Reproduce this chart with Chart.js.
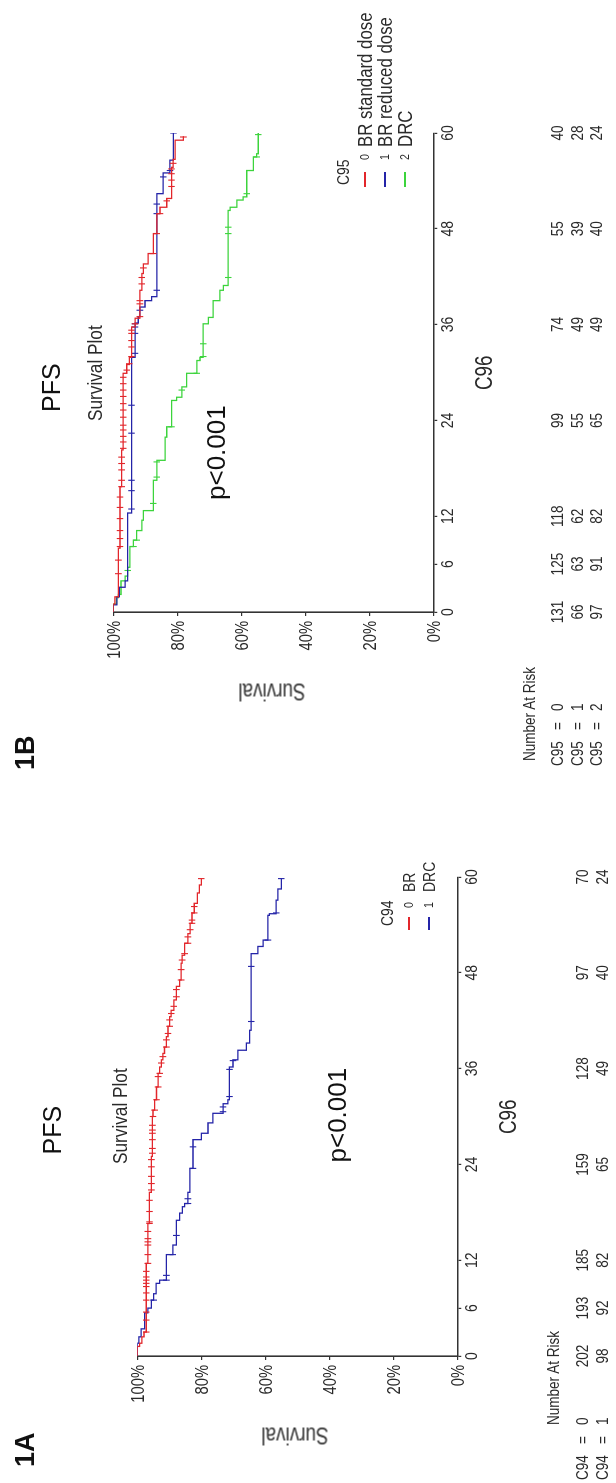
<!DOCTYPE html>
<html><head><meta charset="utf-8">
<script src="https://cdn.jsdelivr.net/npm/chart.js@4/dist/chart.umd.min.js"></script>
<style>
html,body{margin:0;padding:0;background:#fff;}
body{width:616px;height:1483px;overflow:hidden;position:relative;}
#land{position:absolute;left:0;top:0;width:1483px;height:616px;transform-origin:0 0;transform:translate(0,1483px) rotate(-90deg);}
.t{position:absolute;white-space:pre;line-height:1;color:#222;transform-origin:0 0;}
.wrap{position:absolute;}
.lg{position:absolute;height:1.6px;}
</style></head><body>
<div id="land">
  <div class="wrap" style="left:0;top:24px;width:740px;height:592px;"><canvas id="cA" width="740" height="592" style="width:740px;height:592px"></canvas></div>
  <div class="wrap" style="left:744px;top:0;width:739px;height:616px;"><canvas id="cB" width="739" height="616" style="width:739px;height:616px"></canvas></div>
</div>
<script>
// ================= DATA =================
const xTicks = [0, 6, 12, 24, 36, 48, 60];
const yTicks = [0, 20, 40, 60, 80, 100];
const riskTimes = [0, 6, 12, 24, 36, 48, 60];

// Figure 1A  (C94: 0 = BR, 1 = DRC)  steps: [months, survival %]
const stepsA_BR = [[0,100],[1.2,99.3],[1.6,98.6],[2.4,97.9],[3.0,97.2],[11.6,96.7],[16.6,96.2],[20.5,95.6],[25.0,95.3],[30.0,95.1],[30.8,94.6],[32.1,94.0],[33.7,93.5],[35.4,93.0],[36.2,92.5],[37.1,92.0],[37.9,91.5],[38.7,90.9],[40.0,90.4],[41.3,89.9],[42.5,89.4],[43.3,88.6],[44.6,87.8],[46.3,86.8],[47.1,86.3],[49.2,86.0],[50.2,85.2],[51.7,84.2],[52.9,83.5],[54.2,82.9],[55.5,82.2],[56.7,81.2],[58.0,80.6],[59.0,80.0],[59.8,80.0]];
const stepsA_DRC = [[0,100],[1.6,99.5],[2.4,98.8],[3.4,97.7],[5.4,96.7],[6.0,95.6],[7.0,94.9],[7.8,94.1],[9.1,93.0],[9.5,90.9],[12.7,88.9],[13.9,87.8],[17.0,86.8],[17.9,85.9],[18.7,85.2],[19.1,84.2],[20.5,83.6],[23.5,82.6],[27.1,80.0],[27.9,77.9],[29.2,76.4],[30.4,73.2],[31.6,71.7],[32.1,71.2],[36.2,70.1],[37.1,68.6],[38.3,65.9],[39.2,64.9],[40.8,64.4],[50.4,62.3],[51.3,60.7],[52.1,59.2],[55.2,58.7],[55.4,56.6],[57.1,56.1],[58.5,55.0],[59.8,55.0]];
const censA_BR = [3.0,4.5,5.5,7.0,7.9,8.7,9.1,9.5,9.9,10.6,11.6,12.7,13.9,14.3,14.7,15.6,16.6,16.8,18.1,19.5,20.8,21.6,22.5,23.7,24.6,25.4,26.0,27.1,27.9,28.3,28.9,30.0,30.8,32.1,33.7,35.0,35.4,36.7,37.5,38.7,39.6,40.4,41.3,42.1,42.9,43.8,45.0,45.9,47.1,48.4,49.6,50.4,51.7,52.5,53.4,54.2,54.6,55.5,56.3,59.8];
const censA_DRC = [7.0,9.5,10.1,12.7,15.1,19.1,19.7,23.5,26.2,30.6,31.2,32.5,35.9,37.0,41.9,48.8,52.1,55.5,59.8];
const riskA_0 = [202,193,185,159,128,97,70];
const riskA_1 = [98,92,82,65,49,40,24];

// Figure 1B  (C95: 0 = BR standard dose, 1 = BR reduced dose, 2 = DRC)
const stepsB_std = [[0,100],[1.0,99.5],[1.9,98.4],[8.0,97.9],[15.7,97.4],[20.3,96.9],[29.9,95.8],[31.0,95.0],[31.9,94.3],[35.7,93.2],[36.8,91.7],[40.3,91.1],[42.4,90.6],[43.6,89.1],[44.9,87.5],[47.4,86.4],[49.9,85.4],[50.7,83.3],[51.8,81.8],[55.7,81.3],[56.7,80.7],[59.1,78.1],[59.6,78.1]];
const stepsB_red = [[0,100],[0.9,98.9],[1.9,98.1],[3.1,96.3],[3.9,95.5],[12.4,94.3],[31.9,93.2],[36.2,92.2],[37.0,91.7],[38.2,90.1],[39.0,88.0],[39.5,86.4],[52.4,84.4],[55.0,82.3],[56.6,81.2],[60,81.2]];
const stepsB_DRC = [[0,100],[1.0,99.0],[1.8,98.4],[2.2,97.6],[3.9,96.3],[4.5,95.5],[5.6,94.8],[8.2,93.7],[9.0,92.7],[10.2,91.1],[11.5,90.6],[12.7,87.5],[16.5,86.4],[19.0,83.8],[21.9,83.3],[23.2,81.8],[26.5,80.2],[26.9,78.6],[28.2,77.1],[29.9,73.9],[31.5,72.9],[31.9,71.9],[36.1,70.3],[36.9,68.8],[39.0,66.7],[40.3,65.6],[40.9,64.1],[50.3,63.5],[50.7,61.4],[51.6,59.4],[52.0,58.3],[55.3,56.2],[57.0,55.2],[57.4,54.7],[60,54.7]];
const censB_std = [4.8,6.5,8.2,9.2,10.2,11.7,13.1,14.4,15.7,16.5,17.8,18.6,19.4,20.5,21.3,22.0,22.8,23.4,24.4,25.3,26.1,27.0,27.8,28.6,29.4,30.3,31.1,32.0,33.2,34.0,34.9,35.3,36.1,37.0,38.6,39.0,41.1,41.9,43.1,44.9,47.4,49.9,51.5,53.3,54.1,54.9,55.5,56.2,59.5];
const censB_red = [12.9,15.2,16.5,22.4,25.9,32.4,34.9,35.7,36.1,37.8,40.3,49.9,51.1,54.5,55.3,60];
const censB_DRC = [5.2,8.2,9.0,13.6,16.9,18.8,23.2,27.8,29.9,32.0,33.6,41.9,47.4,48.2,52.4,57.0,59.8];
const riskB_0 = [131,125,118,99,74,55,40];
const riskB_1 = [66,63,62,55,49,39,28];
const riskB_2 = [97,91,82,65,49,40,24];

// ================= STYLE / LAYOUT =================
const RED = '#e2262b', BLUE = '#2424a8', GREEN = '#3cd43c', AXIS = '#333';
function hasFont(name){
  const c = document.createElement('canvas').getContext('2d');
  const s = 'Number At Risk 0123456789 %';
  c.font = '40px monospace'; const w1 = c.measureText(s).width;
  c.font = '40px "' + name + '", monospace'; const w2 = c.measureText(s).width;
  return Math.abs(w1 - w2) > 0.5;
}
const NARROW_OK = hasFont('Liberation Sans Narrow');
const NF = NARROW_OK ? '"Liberation Sans Narrow", "Liberation Sans", sans-serif' : '"Liberation Sans", Arial, sans-serif';
const SX = NARROW_OK ? 1 : 0.82;   // emulate Arial Narrow by horizontal compression
const SF = '"Liberation Sans", Arial, sans-serif';

function survAt(steps, t){ let s = steps[0][1]; for (const [x,y] of steps){ if (x <= t + 1e-9) s = y; else break; } return s; }

function narrowText(ctx, str, x, y, size, align){
  ctx.save();
  ctx.translate(x, y); ctx.scale(SX, 1);
  ctx.font = size + 'px ' + NF;
  ctx.textAlign = align; ctx.textBaseline = 'alphabetic';
  ctx.fillText(str, 0, 0);
  ctx.restore();
}

function makeChart(id, W, H, series, riskRows, rowV){
  const datasets = [];
  series.forEach(sr => {
    datasets.push({ data: sr.steps.map(([x,y]) => ({x, y})), stepped: 'before', borderColor: sr.color,
      borderWidth: 1.3, pointRadius: 0, fill: false, tension: 0 });
    datasets.push({ data: sr.cens.map(t => ({x: t, y: survAt(sr.steps, t)})), showLine: false,
      pointStyle: 'line', rotation: 90, pointRadius: 3.3, pointHoverRadius: 3.3,
      pointBorderColor: sr.color, borderColor: sr.color, pointBorderWidth: 1.1 });
  });
  const labelPlugin = {
    id: 'labels',
    afterDraw(chart){
      const ctx = chart.ctx, xs = chart.scales.x, ys = chart.scales.y;
      ctx.save();
      ctx.fillStyle = '#2a2a2a';
      xs.ticks.forEach(tk => narrowText(ctx, String(tk.value), xs.getPixelForValue(tk.value), xs.top + 19.5, 17, 'center'));
      ys.ticks.forEach(tk => narrowText(ctx, tk.value + '%', ys.right - 9, ys.getPixelForValue(tk.value) + 6.4, 18, 'right'));
      riskRows.forEach((row, i) => row.forEach((n, j) => {
        narrowText(ctx, String(n), xs.getPixelForValue(riskTimes[j]), rowV[i] + 6, 16.5, 'center');
      }));
      ctx.restore();
    }
  };
  const XH = 30;
  const gridOpt = { display: true, drawOnChartArea: false, drawTicks: true, tickLength: 4, color: AXIS, lineWidth: 1.2 };
  return new Chart(document.getElementById(id), {
    type: 'line',
    data: { datasets },
    plugins: [labelPlugin],
    options: {
      responsive: false, animation: false, devicePixelRatio: 1,
      events: [],
      layout: { padding: { left: 0, right: W - 606, top: 113.3, bottom: H - 433.3 - XH } },
      plugins: { legend: { display: false }, tooltip: { enabled: false } },
      scales: {
        x: { type: 'linear', min: 0, max: 60,
          afterBuildTicks: s => { s.ticks = xTicks.map(v => ({value: v})); },
          afterFit: s => { s.height = XH; },
          grid: gridOpt, border: { display: true, color: AXIS, width: 1.6 },
          ticks: { font: { family: NF, size: 14 }, color: 'rgba(0,0,0,0)', padding: 1, maxRotation: 0, autoSkip: false } },
        y: { type: 'linear', min: 0, max: 100,
          afterBuildTicks: s => { s.ticks = yTicks.map(v => ({value: v})); },
          afterFit: s => { s.width = 127; },
          grid: gridOpt, border: { display: true, color: AXIS, width: 1.6 },
          ticks: { font: { family: NF, size: 14 }, color: 'rgba(0,0,0,0)', padding: 5, callback: v => v + '%' } }
      }
    }
  });
}

makeChart('cA', 740, 592, [
  { steps: stepsA_BR, cens: censA_BR, color: RED },
  { steps: stepsA_DRC, cens: censA_DRC, color: BLUE }
], [riskA_0, riskA_1], [558, 578]);

makeChart('cB', 739, 616, [
  { steps: stepsB_std, cens: censB_std, color: RED },
  { steps: stepsB_red, cens: censB_red, color: BLUE },
  { steps: stepsB_DRC, cens: censB_DRC, color: GREEN }
], [riskB_0, riskB_1, riskB_2], [557, 576.5, 596]);

// ================= TEXT (landscape coordinates) =================
const land = document.getElementById('land');
function T(str, u, vb, size, fam, o){
  o = o || {};
  const sx = o.narrow ? SX : 1;
  const d = document.createElement('div'); d.className = 't'; d.textContent = str;
  d.style.fontSize = size + 'px'; d.style.fontFamily = fam;
  if (o.bold) d.style.fontWeight = 'bold';
  if (o.color) d.style.color = o.color;
  if (o.ws) d.style.wordSpacing = o.ws + 'px';
  d.style.top = (vb - 0.8465*size) + 'px';
  land.appendChild(d);
  let left = u;
  if (o.center) left = u - d.offsetWidth * sx / 2;
  d.style.left = left + 'px';
  if (sx !== 1) d.style.transform = 'scaleX(' + sx + ')';
  return d;
}
function TR(str, uc, vc, size){
  const d = document.createElement('div'); d.className = 't'; d.textContent = str;
  d.style.fontSize = size + 'px'; d.style.fontFamily = NF; d.style.color = '#333';
  d.style.transformOrigin = '50% 50%';
  d.style.left = uc + 'px'; d.style.top = vc + 'px';
  d.style.transform = 'translate(-50%,-50%) rotate(-90deg) scaleX(' + SX + ')';
  land.appendChild(d); return d;
}
function L(u, v, w, color){
  const d = document.createElement('div'); d.className = 'lg';
  d.style.left = u + 'px'; d.style.top = (v - 0.8) + 'px'; d.style.width = w + 'px'; d.style.background = color;
  land.appendChild(d);
}
const N = {narrow: true, color: '#2a2a2a'};
const NC = {narrow: true, center: true, color: '#2a2a2a'};

// ---- 1A ----
T('1A', 16, 35, 27, SF, {bold: true, color: '#111'});
T('PFS', 353, 61, 25, SF, {center: true, color: '#111'});
T('Survival Plot', 366.5, 127, 21, NF, NC);
T('p<0.001', 368, 346.5, 26, SF, {center: true, color: '#111'});
T('C96', 366.5, 516, 23, NF, NC);
TR('Survival', 48, 295, 23);
T('C94', 570, 393, 17, NF, NC);
L(553, 409, 13, RED); L(553, 429, 13, BLUE);
T('0', 575, 413.5, 13, NF, N); T('1', 575, 433.5, 13, NF, N);
T('BR', 591, 415, 17, NF, N); T('DRC', 591, 435, 17, NF, N);
T('Number At Risk', 58, 559.4, 16.5, NF, N);
T('C94 = 0', 3, 588, 16.5, NF, {narrow: true, color: '#2a2a2a', ws: 9});
T('C94 = 1', 3, 608, 16.5, NF, {narrow: true, color: '#2a2a2a', ws: 9});

// ---- 1B ----
T('1B', 713, 35, 27, SF, {bold: true, color: '#111'});
T('PFS', 1095.5, 60, 25, SF, {center: true, color: '#111'});
T('Survival Plot', 1109.5, 102, 21, NF, NC);
T('p<0.001', 1030.5, 225, 26, SF, {center: true, color: '#111'});
T('C96', 1110.5, 492, 23, NF, NC);
TR('Survival', 791.5, 271.5, 23);
T('C95', 1311, 349, 17, NF, NC);
L(1296, 365, 15, RED); L(1296, 385, 15, BLUE); L(1296, 405, 15, GREEN);
T('0', 1323, 369.5, 13, NF, N); T('1', 1323, 389.5, 13, NF, N); T('2', 1323, 409.5, 13, NF, N);
T('BR standard dose', 1336, 372, 20.5, NF, N);
T('BR reduced dose', 1336, 392, 20.5, NF, N);
T('DRC', 1336, 412, 20.5, NF, N);
T('Number At Risk', 722, 535, 16.5, NF, N);
T('C95 = 0', 717, 563, 16.5, NF, {narrow: true, color: '#2a2a2a', ws: 9});
T('C95 = 1', 717, 582.5, 16.5, NF, {narrow: true, color: '#2a2a2a', ws: 9});
T('C95 = 2', 717, 602, 16.5, NF, {narrow: true, color: '#2a2a2a', ws: 9});
</script>
</body></html>
